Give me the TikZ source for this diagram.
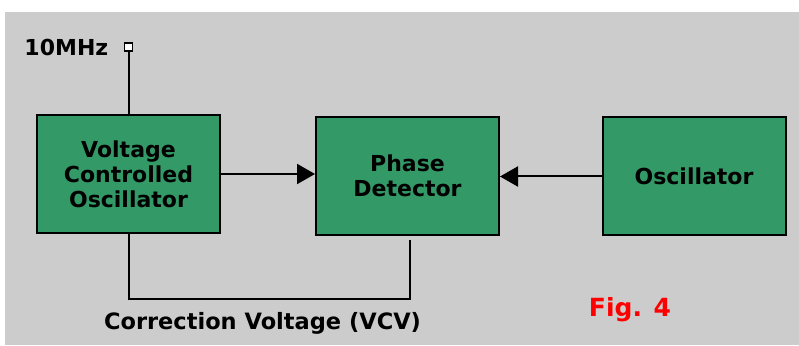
\documentclass[tikz,border=0pt]{standalone}
\usepackage{fontspec}
\setmainfont{DejaVu Sans}
\usetikzlibrary{positioning,arrows.meta}
\definecolor{blockgreen}{RGB}{51,153,102}
\definecolor{panelgray}{RGB}{204,204,204}
\definecolor{figred}{RGB}{255,0,0}

\begin{document}
\begin{tikzpicture}[x=1pt,y=1pt,
                    every node/.style={font=\fontsize{22}{25}\selectfont\bfseries},
                    block/.style={draw,line width=2pt,fill=blockgreen,
                      minimum width=183pt,minimum height=118pt,align=center,
                      inner sep=0pt},
                    wire/.style={line width=2pt},
                    feed/.style={wire,-{Triangle[length=18pt,width=20pt]}}]
      \useasboundingbox (0,0) rectangle (799,345);
      \fill[panelgray] (5,0) rectangle (799,333);
      \node[block] (vco) at (128.5,171) {Voltage\\Controlled\\Oscillator};
      \node[block] (pd) at (407.5,169) {Phase\\Detector};
      \node[block] (osc) at (694,168.5) {Oscillator};
      \node[draw,line width=1.5pt,fill=white,minimum size=8pt,inner sep=0pt,
            above=62pt of vco] (term) {};
      \node[left=12pt of term] (freq) {10MHz};
      \draw[wire] (term) -- (vco);
      \draw[feed] (vco.east) -- (vco.east -| pd.west);
      \draw[feed] (osc.west) -- (osc.west -| pd.east);
      \coordinate (fbl) at (vco.south |- 0,46);
      \draw[wire] (vco.south) -- (fbl) -| ([xshift=2.5pt,yshift=-4pt]pd.south);
      \node[font=\fontsize{22.5}{25}\selectfont\bfseries] (cvlabel) at (262.5,22)
        {Correction Voltage (VCV)};
      \node[figred,font=\fontsize{25}{28}\selectfont\bfseries] (fig) at (630,35) {Fig. 4};
    \end{tikzpicture}
\end{document}
